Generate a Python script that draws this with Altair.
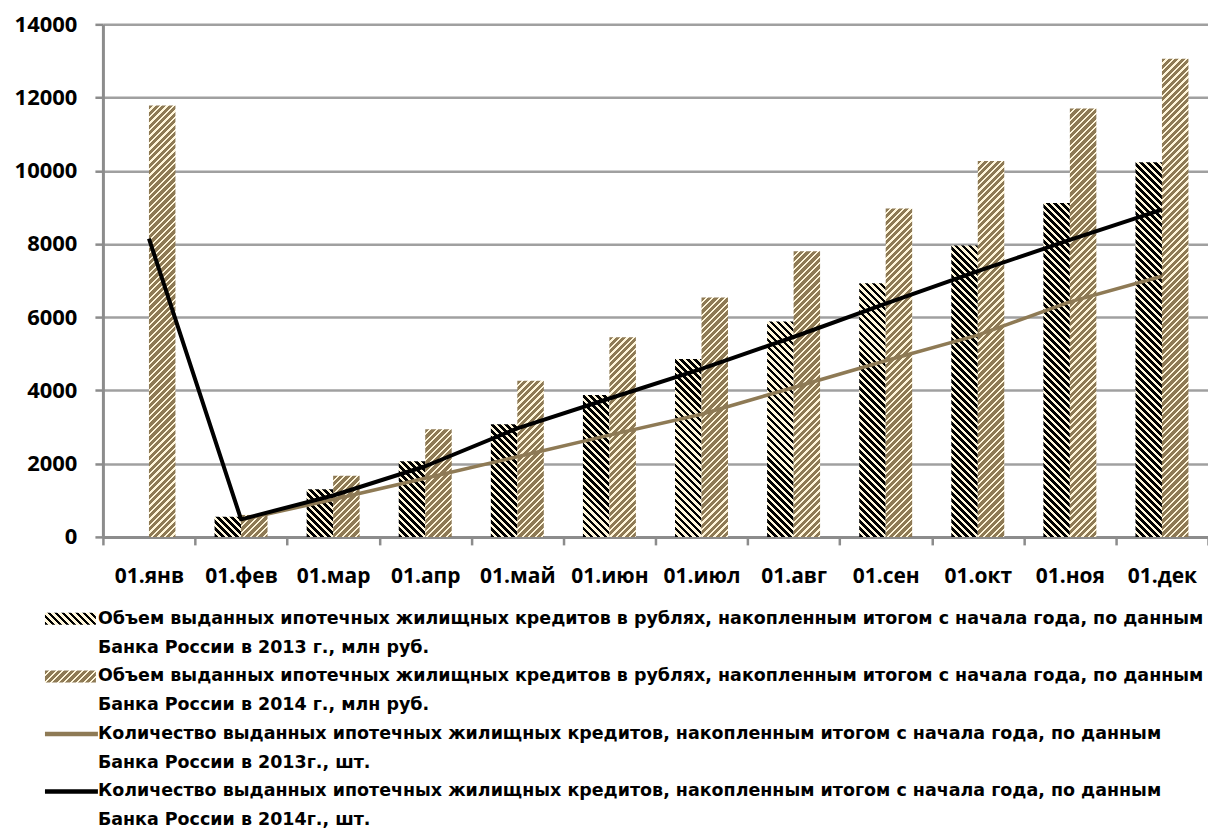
import altair as alt
import pandas as pd

# Month labels (cumulative totals as of the 1st of each month)
months = ["01.янв", "01.фев", "01.мар", "01.апр", "01.май", "01.июн",
          "01.июл", "01.авг", "01.сен", "01.окт", "01.ноя", "01.дек"]

# Mortgage volume, mln rub (bars)
volume_2013 = [None, 550, 1300, 2065, 3080, 3875, 4860, 5880, 6930, 7960, 9120, 10230]
volume_2014 = [11780, 600, 1670, 2940, 4265, 5450, 6540, 7800, 8970, 10270, 11700, 13060]

# Number of mortgage loans, units (lines)
count_2013 = [None, 470, 1020, 1600, 2190, 2780, 3350, 4080, 4810, 5510, 6420, 7120]
count_2014 = [8150, 480, 1130, 1930, 2965, 3780, 4590, 5460, 6370, 7260, 8110, 8940]

y_ticks = [0, 2000, 4000, 6000, 8000, 10000, 12000, 14000]

legend_labels = [
    "Объем выданных ипотечных жилищных кредитов в рублях, накопленным итогом с начала года, по данным",
    "Банка России в 2013 г., млн руб.",
    "Объем выданных ипотечных жилищных кредитов в рублях, накопленным итогом с начала года, по данным",
    "Банка России в 2014 г., млн руб.",
    "Количество выданных ипотечных жилищных кредитов, накопленным итогом с начала года, по данным",
    "Банка России в 2013г., шт.",
    "Количество выданных ипотечных жилищных кредитов, накопленным итогом с начала года, по данным",
    "Банка России в 2014г., шт.",
]

# ---- layout / style ----
W, H = 1106, 513
LEFT, TOP = 103, 24
Y_MAX = 14000
STEP = W / len(months)
OFFSET_PAD = 0.739
BAR_W = STEP / (2 + 2 * OFFSET_PAD)

TAN = "#8E7A55"
CREAM = "#FFF6DA"
BLACK = "#000000"
GRID = "#A0A0A0"
AXIS = "#8C8C8C"
AXIS_FONT = "Open Sans"
LEGEND_FONT = "DejaVu Sans"


def hatch(w, h, ink, ink_share, period, direction):
    """Diagonal 45-degree stripes built from a hard-stop linear gradient
    sized for a w x h pixel box."""
    span = w + h
    c = w * span / (w * w + h * h)
    if direction == "/":
        x1, y1, x2, y2 = 0, 0, c, c * h / w
    else:
        x1, y1, x2, y2 = 0, 1, c, 1 - c * h / w
    stops = []
    s = 0.0
    while s < span:
        a = min(s / span, 1)
        b = min((s + ink_share * period) / span, 1)
        e = min((s + period) / span, 1)
        stops += [
            {"offset": round(a, 5), "color": ink},
            {"offset": round(b, 5), "color": ink},
            {"offset": round(b, 5), "color": CREAM},
            {"offset": round(e, 5), "color": CREAM},
        ]
        s += period
    return {"gradient": "linear", "x1": x1, "y1": y1, "x2": x2, "y2": y2, "stops": stops}


STYLE_2013 = dict(ink=BLACK, ink_share=0.55, period=7.0, direction="\\")
STYLE_2014 = dict(ink=TAN, ink_share=0.65, period=6.5, direction="/")

x_axis = alt.Axis(
    title=None, labelAngle=0, labelFont=AXIS_FONT, labelFontWeight="bold",
    labelFontSize=21, labelColor="#000", labelPadding=21, labelOverlap=False,
    tickBand="extent", tickSize=8, tickColor=AXIS, tickWidth=2.5,
    domainColor=AXIS, domainWidth=3, grid=False,
)
y_axis = alt.Axis(
    title=None, values=y_ticks, format="d", labelFont=AXIS_FONT,
    labelFontWeight="bold", labelFontSize=22, labelColor="#000",
    labelPadding=18, tickSize=8, tickColor=AXIS, tickWidth=2.5,
    domainColor=AXIS, domainWidth=3, grid=True, gridColor=GRID, gridWidth=2.5,
)

x_enc = alt.X("month:N", scale=alt.Scale(domain=months, paddingInner=0, paddingOuter=0), axis=x_axis)
xo_enc = alt.XOffset("series:N", scale=alt.Scale(domain=["2013", "2014"], paddingInner=0,
                                                  paddingOuter=OFFSET_PAD))
y_enc = alt.Y("value:Q", scale=alt.Scale(domain=[0, Y_MAX], nice=False, zero=True), axis=y_axis)

layers = []

# Hatched bars, one layer per bar so each gets a stripe gradient fitted to its size
for series, values, style in (("2013", volume_2013, STYLE_2013), ("2014", volume_2014, STYLE_2014)):
    for m, v in zip(months, values):
        if v is None:
            continue
        h = v / Y_MAX * H
        df = pd.DataFrame({"month": [m], "series": [series], "value": [v]})
        layers.append(
            alt.Chart(df).mark_bar(fill=hatch(BAR_W, h, **style), strokeWidth=0)
            .encode(x=x_enc, xOffset=xo_enc, y=y_enc)
        )

# Count lines
for values, color, width in ((count_2013, TAN, 3.5), (count_2014, BLACK, 4)):
    df = pd.DataFrame({"month": months, "value": values}).dropna()
    layers.append(
        alt.Chart(df).mark_line(color=color, strokeWidth=width, strokeJoin="round")
        .encode(x=x_enc, y=y_enc)
    )

# Legend drawn beneath the plot
one = pd.DataFrame({"k": [0]})
ROW0, ROW_GAP = 619, 28.8
SW_X0, SW_X1, TXT_X = 45, 96, 98
for i, label in enumerate(legend_labels):
    yc = ROW0 + i * ROW_GAP - TOP
    layers.append(
        alt.Chart(one).mark_text(align="left", baseline="middle", font=LEGEND_FONT,
                                 fontWeight="bold", fontSize=17.5, color="#000")
        .encode(x=alt.value(TXT_X - LEFT), y=alt.value(yc), text=alt.value(label))
    )
for row, style in ((0, STYLE_2013), (2, STYLE_2014)):
    yc = ROW0 + row * ROW_GAP - TOP
    layers.append(
        alt.Chart(one).mark_rect(fill=hatch(SW_X1 - SW_X0, 12, **style))
        .encode(x=alt.value(SW_X0 - LEFT), x2=alt.value(SW_X1 - LEFT),
                y=alt.value(yc - 6), y2=alt.value(yc + 6))
    )
for row, color in ((4, TAN), (6, BLACK)):
    yc = ROW0 + row * ROW_GAP - TOP
    layers.append(
        alt.Chart(one).mark_rule(color=color, strokeWidth=4.5)
        .encode(x=alt.value(SW_X0 - LEFT), x2=alt.value(TXT_X - LEFT), y=alt.value(yc))
    )

chart = (
    alt.layer(*layers)
    .properties(
        width=W, height=H,
        autosize=alt.AutoSizeParams(type="none"),
        padding={"left": LEFT, "top": TOP, "right": 0, "bottom": 829 - TOP - H},
        background="white",
    )
    .configure_view(stroke=None)
)

chart.save("out.html", embed_options={"renderer": "svg", "actions": False})
